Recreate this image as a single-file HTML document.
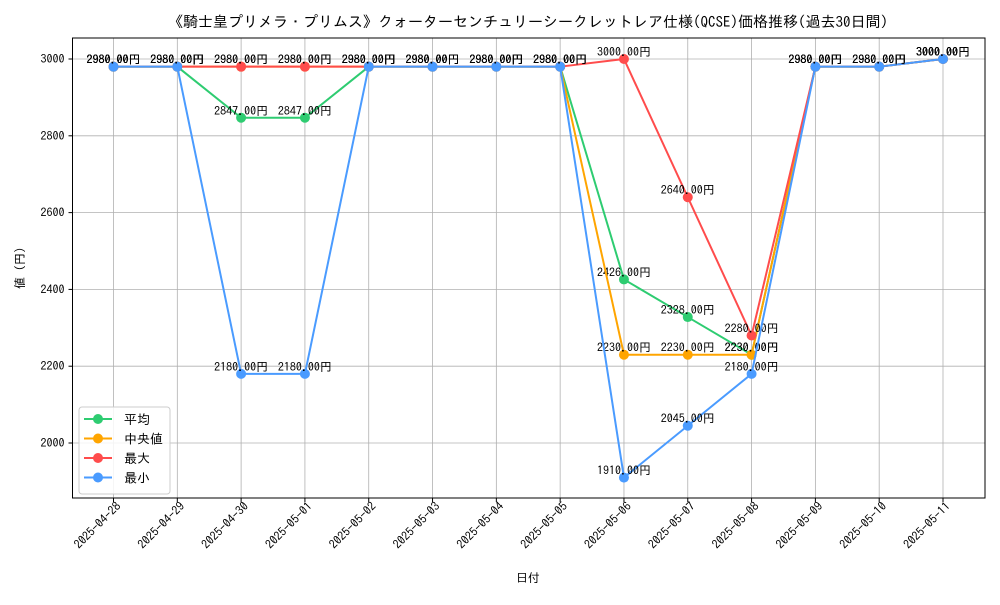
<!DOCTYPE html>
<html><head><meta charset="utf-8"><style>
body{margin:0;background:#fff;}
svg{font-family:"IPAGothic","Noto Sans CJK JP",sans-serif;}
</style></head><body>
<svg id="chart" width="1000" height="600" xmlns="http://www.w3.org/2000/svg"></svg>
<script>
const categories=["2025-04-28","2025-04-29","2025-04-30","2025-05-01","2025-05-02","2025-05-03","2025-05-04","2025-05-05","2025-05-06","2025-05-07","2025-05-08","2025-05-09","2025-05-10","2025-05-11"];
const avgValues=[2980,2980,2847,2847,2980,2980,2980,2980,2426,2328,2230,2980,2980,3000];
const medianValues=[2980,2980,2980,2980,2980,2980,2980,2980,2230,2230,2230,2980,2980,3000];
const maxValues=[2980,2980,2980,2980,2980,2980,2980,2980,3000,2640,2280,2980,2980,3000];
const minValues=[2980,2980,2180,2180,2980,2980,2980,2980,1910,2045,2180,2980,2980,3000];
const yTicks=[2000,2200,2400,2600,2800,3000];
const seriesNames=["平均","中央値","最大","最小"];
const NS="http://www.w3.org/2000/svg";
const svg=document.getElementById('chart');
const L=72.5,R=985,T=38,B=498,yMin=1856.8,yMax=3054.7;
const x0=113.5,dx=(943-113.5)/13;
function X(i){return x0+i*dx;}
function Y(v){return B-(v-yMin)/(yMax-yMin)*(B-T);}
function el(t,a,txt){const e=document.createElementNS(NS,t);for(const k in a)e.setAttribute(k,a[k]);if(txt!==undefined)e.textContent=txt;svg.appendChild(e);return e;}
let e;
e=el('text',{x:528,y:27,'text-anchor':'middle','font-size':15},"《騎士皇プリメラ・プリムス》クォーターセンチュリーシークレットレア仕様(QCSE)価格推移(過去30日間)");


yTicks.forEach(v=>{
 e=el('line',{x1:L,x2:R,y1:Y(v),y2:Y(v),stroke:'#b0b0b0','stroke-width':0.8});
 
 
 el('line',{x1:L-4,x2:L,y1:Y(v),y2:Y(v),stroke:'#000'});
 e=el('text',{x:L-8,y:Y(v)+4,'text-anchor':'end','font-size':12},String(v));
 
 
});
categories.forEach((c,i)=>{
 e=el('line',{x1:X(i),x2:X(i),y1:T,y2:B,stroke:'#b0b0b0','stroke-width':0.8});
 
 
 el('line',{x1:X(i),x2:X(i),y1:B,y2:B+4,stroke:'#000'});
 const tx=X(i)+8,ty=B+9;
 e=el('text',{x:tx,y:ty,'text-anchor':'end','font-size':12,transform:`rotate(-45 ${tx} ${ty})`},c);
 
 
});
e=el('rect',{x:L,y:T,width:R-L,height:B-T,fill:'none',stroke:'#000','stroke-width':1});


e=el('text',{x:528,y:582,'text-anchor':'middle','font-size':12},"日付");


e=el('text',{x:24,y:268,'text-anchor':'middle','font-size':12,transform:'rotate(-90 24 268)'},"値 (円)");


const series=[[avgValues,'#2ecc71'],[medianValues,'#ffa500'],[maxValues,'#ff4c4c'],[minValues,'#4a9bff']];
series.forEach(([vals,col],si)=>{
 e=el('polyline',{points:vals.map((v,i)=>X(i)+','+Y(v)).join(' '),fill:'none',stroke:col,'stroke-width':2});
 
 
 vals.forEach((v,i)=>{
  e=el('circle',{cx:X(i),cy:Y(v),r:5,fill:col});
  
  
  e=el('text',{x:X(i),y:Y(v)-3,'text-anchor':'middle','font-size':12},v.toFixed(2)+'円');
  
  
 });
});
e=el('rect',{x:79,y:407,width:91,height:87,fill:'#fff','fill-opacity':0.85,stroke:'#ccc',rx:3});


series.forEach(([v,col],si)=>{
 const y=419+si*19.5;
 el('line',{x1:84,x2:112,y1:y,y2:y,stroke:col,'stroke-width':2});
 el('circle',{cx:98,cy:y,r:5,fill:col});
 e=el('text',{x:124,y:y+5,'font-size':13},seriesNames[si]);
 
 
});
</script>
</body></html>
